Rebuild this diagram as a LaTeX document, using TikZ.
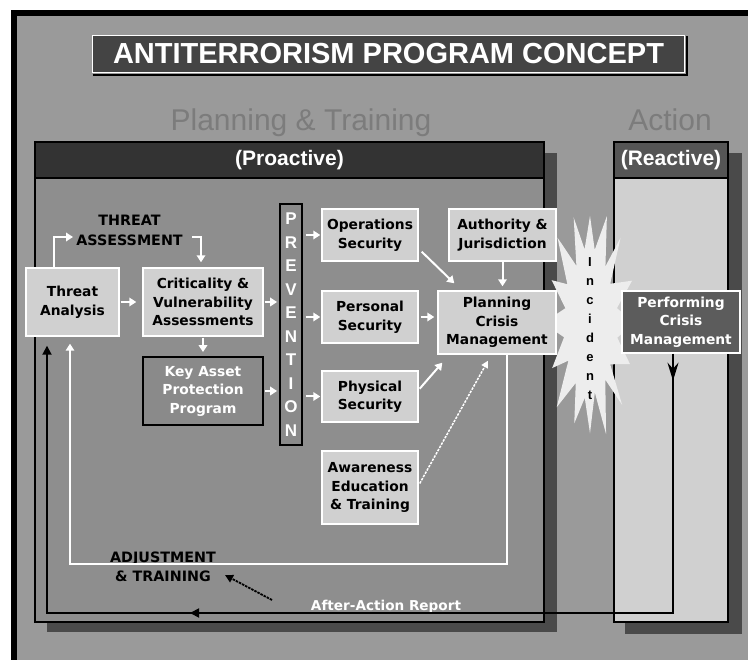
\documentclass[tikz,border=0pt]{standalone}
\usepackage{fontspec}
\setmainfont{DejaVu Sans}
\newfontfamily\lib{Liberation Sans}
\usetikzlibrary{arrows.meta,calc}
\definecolor{bgc}{HTML}{9A9A9A}
\definecolor{probody}{HTML}{8E8E8E}
\definecolor{shadowc}{HTML}{4A4A4A}
\definecolor{prohead}{HTML}{333333}
\definecolor{rehead}{HTML}{555555}
\definecolor{lightg}{HTML}{D0D0D0}
\definecolor{midg}{HTML}{8A8A8A}
\definecolor{perfg}{HTML}{5C5C5C}
\definecolor{titleg}{HTML}{444444}
\definecolor{phasec}{HTML}{7C7C7C}
\definecolor{starc}{HTML}{EDEDED}
\newcommand\bxfont{\fontsize{13.8}{18.5}\selectfont\bfseries}
\begin{document}
\begin{tikzpicture}[x=1pt,y=-1pt,
  lbox/.style={draw=white,line width=1.4pt,fill=lightg,inner sep=0pt,align=center,font=\bxfont,text=black},
  dbox/.style={draw=black,line width=1.8pt,fill=midg,inner sep=0pt,align=center,font=\bxfont,text=white},
  pbox/.style={draw=white,line width=1.4pt,fill=perfg,inner sep=0pt,align=center,font=\bxfont,text=white},
  hdr/.style={font=\lib\bfseries\fontsize{21}{21}\selectfont,text=white,inner sep=0pt},
  wa/.style={draw=white,line width=2pt,-{Triangle[length=7pt,width=8.5pt]}},
  bl/.style={draw=black,line width=1.8pt},
  lbl/.style={font=\fontsize{14.3}{19.5}\selectfont\bfseries,text=black,align=center,inner sep=0pt}]
\useasboundingbox (0,0) rectangle (748,660);
% frame
\fill[white] (0,0) rectangle (748,660);
\fill[black] (11,10) rectangle (748,660);
\fill[bgc] (17,16) rectangle (748,660);
% title
\node[fill=titleg,draw=white,line width=1.5pt,minimum width=592pt,minimum height=37pt,inner sep=0pt,
      text=white,font=\lib\bfseries\fontsize{29}{29}\selectfont] (title) at (388.5,54) {ANTITERRORISM PROGRAM CONCEPT};
\draw[black,line width=1.5pt] ($(title.south west)+(1,1.6)$) -- ($(title.south east)+(1.6,1.6)$) -- ($(title.north east)+(1.6,1)$);
% phase labels
\node[anchor=base,inner sep=0pt,text=phasec,font=\lib\fontsize{30}{30}\selectfont] (plt) at (301,131) {Planning \& Training};
\node[anchor=base,inner sep=0pt,text=phasec,font=\lib\fontsize{30}{30}\selectfont] (act) at (670,131) {Action};
% shadows
\fill[shadowc] (47,153) rectangle (557,632);
\fill[shadowc] (625,153) rectangle (742,634);
% proactive frame
\draw[line width=1.6pt,fill=probody] (35,142) rectangle (544,622);
\draw[line width=1.6pt,fill=prohead] (35,142) rectangle (544,178);
\node[hdr] (pro) at (289.5,160) {(Proactive)};
% reactive frame
\draw[line width=1.6pt,fill=lightg] (614,142) rectangle (728,622);
\draw[line width=1.6pt,fill=rehead] (614,142) rectangle (728,178);
\node[hdr] (rea) at (671,160) {(Reactive)};
% starburst (behind the boxes)
\fill[starc] plot[samples at={0,...,31},variable=\k]
  ({590+(35+9*cos(\k*180))*cos(\k*11.25)*(1+0.07*sin(\k*97))},
   {323+(93+21*cos(\k*180))*sin(\k*11.25)*(1+0.06*sin(\k*131))}) -- cycle;
% nodes
\node[lbox,minimum width=93pt,minimum height=68pt] (ta) at (72.5,302) {Threat\\Analysis};
\node[lbox,minimum width=120pt,minimum height=68pt] (cva) at (203,302) {Criticality \&\\Vulnerability\\Assessments};
\node[dbox,minimum width=120pt,minimum height=68pt] (kap) at (203,391) {Key Asset\\Protection\\Program};
\node[draw=black,line width=1.8pt,fill=midg,minimum width=22pt,minimum height=241pt,inner sep=0pt,align=center,
      text=white,font=\lib\bfseries\fontsize{17}{23.5}\selectfont] (prev) at (291,324.5) {P\\R\\E\\V\\E\\N\\T\\I\\O\\N};
\node[lbox,minimum width=96pt,minimum height=52pt] (ops) at (370,235) {Operations\\Security};
\node[lbox,minimum width=96pt,minimum height=52pt] (pers) at (370,317) {Personal\\Security};
\node[lbox,minimum width=96pt,minimum height=51pt] (phys) at (370,396.5) {Physical\\Security};
\node[lbox,minimum width=96pt,minimum height=73pt] (aware) at (370,487.5) {Awareness\\Education\\\& Training};
\node[lbox,minimum width=107pt,minimum height=52pt] (auth) at (502.5,235) {Authority \&\\Jurisdiction};
\node[lbox,minimum width=118pt,minimum height=63pt] (plan) at (497,322.5) {Planning\\Crisis\\Management};
\node[inner sep=0pt,align=center,text=black,font=\lib\bfseries\fontsize{13}{19}\selectfont] (inc) at (590,329) {I\\n\\c\\i\\d\\e\\n\\t};
\node[pbox,minimum width=118pt,minimum height=62pt] (perf) at (681,322) {Performing\\Crisis\\Management};
% labels
\node[lbl] (tas) at (129.5,230.5) {THREAT\\ASSESSMENT};
\node[lbl] (adj) at (163,567) {ADJUSTMENT\\\& TRAINING};
\node[inner sep=0pt,text=white,font=\fontsize{13.6}{14}\selectfont\bfseries,anchor=base] (aar) at (386,610) {After-Action Report};
% threat assessment arrows
\coordinate (t1) at (54,237);
\coordinate (t2) at (73,237);
\coordinate (t3) at (192,237);
\coordinate (t4) at (201,237);
\draw[wa] (ta.north -| t1) -- (t1) -- (t2);
\draw[wa,shorten >=5pt] (t3) -- (t4) -- (t4 |- cva.north);
% white flow arrows
\draw[wa,shorten <=1pt,shorten >=6pt] (ta.east |- cva.west) -- (cva.west);
\draw[wa,shorten <=1pt,shorten >=2pt] (cva.east) -- (cva.east -| prev.west);
\draw[wa,shorten <=1pt,shorten >=4pt] (cva.south) -- (kap.north);
\draw[wa,shorten <=1pt,shorten >=2pt] (kap.east) -- (kap.east -| prev.west);
\draw[wa,shorten <=3pt,shorten >=1pt] (prev.east |- ops.west) -- (ops.west);
\draw[wa,shorten <=3pt,shorten >=1pt] (prev.east |- pers.west) -- (pers.west);
\draw[wa,shorten <=3pt,shorten >=1pt] (prev.east |- phys.west) -- (phys.west);
\draw[wa,shorten <=2pt,shorten >=3pt] (pers.east) -- (pers.east -| plan.west);
\draw[wa,shorten >=4pt] (auth.south) -- (auth.south |- plan.north);
\draw[wa] ($(ops.south east)+(3,-10)$) -- ($(plan.north west)+(17,-7)$);
\draw[wa] ($(phys.south east)+(1,-34)$) -- ($(plan.south west)+(5,8)$);
\draw[white,line width=1.5pt,dash pattern=on 2.5pt off 1.2pt,-{Triangle[length=7pt,width=7pt]}]
      ($(aware.east)+(1,-4)$) -- ($(plan.south)+(-9,6)$);
% white feedback loop
\coordinate (w1) at (507,564);
\coordinate (w2) at (70,564);
\draw[wa,line width=1.6pt] (plan.south -| w1) -- (w1) -- (w2) -- ($(w2 |- ta.south)+(0,7)$);
% black after-action loop
\coordinate (b1) at (673,613);
\coordinate (b2) at (47,613);
\coordinate (bm) at (190,613);
\draw[bl,-{Triangle[length=9pt,width=9pt]}] (perf.south -| b1) -- (b1) -- (b2) -- ($(b2 |- ta.south)+(0,9)$);
\draw[bl,-{Triangle[length=9pt,width=9pt]}] (b1) -- (bm);
\draw[bl,-{Stealth[length=18pt,width=11pt,inset=6pt]}] ($(perf.south -| b1)+(0,3)$) -- ++(0,24);
% adjustment arrow
\coordinate (j1) at (272,600);
\coordinate (j2) at (225,575);
\draw[black,line width=1.8pt,dash pattern=on 2.5pt off 1pt,-{Triangle[length=8pt,width=8pt]}] (j1) -- (j2);
\end{tikzpicture}
\end{document}
